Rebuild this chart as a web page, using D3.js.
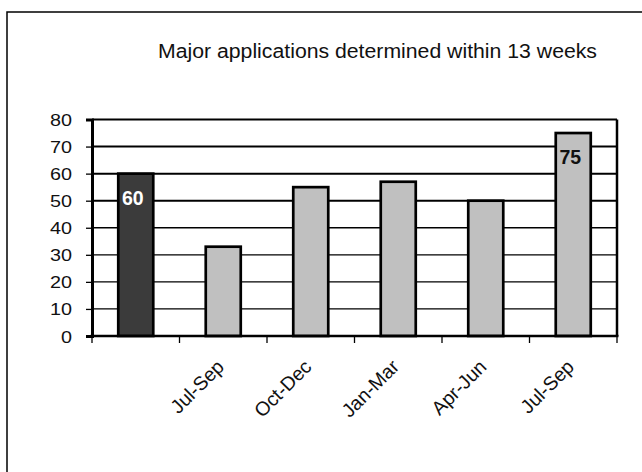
<!DOCTYPE html>
<html>
<head>
<meta charset="utf-8">
<script src="https://cdn.jsdelivr.net/npm/d3@7"></script>
<style>
  html, body { margin: 0; padding: 0; background: #fff; }
  svg { display: block; font-family: "Liberation Sans", Arial, sans-serif; }
</style>
</head>
<body>
<svg id="chart" width="642" height="472"></svg>
<script>
// Quarterly share of major applications decided within 13 weeks (%)
const periods = ["", "Jul-Sep", "Oct-Dec", "Jan-Mar", "Apr-Jun", "Jul-Sep "];
const values = [60, 33, 55, 57, 50, 75];
const barColors = ["#3b3b3b", "#c0c0c0", "#c0c0c0", "#c0c0c0", "#c0c0c0", "#c0c0c0"];
const valueLabels = [{ i: 0, color: "#ffffff" }, { i: 5, color: "#111111" }];
const yTicks = [0, 10, 20, 30, 40, 50, 60, 70, 80];
const titleText = "Major applications determined within 13 weeks";

const W = 642, H = 472;
const plot = { left: 92, right: 617, top: 119.5, bottom: 336 };

const svg = d3.select("#chart");

// outer frame (only top and left edges fall inside the view)
svg.append("rect")
  .attr("x", 7).attr("y", 12)
  .attr("width", W + 20).attr("height", H + 20)
  .attr("fill", "none").attr("stroke", "#000").attr("stroke-width", 1.5);

svg.append("text")
  .attr("x", 158).attr("y", 58)
  .attr("font-size", 19.5)
  .attr("textLength", 439).attr("lengthAdjust", "spacingAndGlyphs")
  .attr("fill", "#111")
  .text(titleText);

const x = d3.scaleBand()
  .domain(d3.range(periods.length))
  .range([plot.left, plot.right])
  .paddingInner(0.6).paddingOuter(0.3);

const xEdge = d3.scaleLinear()
  .domain([0, periods.length])
  .range([plot.left, plot.right]);

const y = d3.scaleLinear().domain([0, 80]).range([plot.bottom, plot.top]);

// horizontal gridlines
svg.append("g").selectAll("line")
  .data(yTicks.filter(t => t > 0))
  .join("line")
  .attr("x1", plot.left).attr("x2", plot.right)
  .attr("y1", d => y(d)).attr("y2", d => y(d))
  .attr("stroke", "#000")
  .attr("stroke-width", d => d >= 50 ? 2 : 1.3);

// right border of the plot area
svg.append("line")
  .attr("x1", plot.right).attr("x2", plot.right)
  .attr("y1", y(80)).attr("y2", y(0))
  .attr("stroke", "#000").attr("stroke-width", 2.5);

// bars
svg.append("g").selectAll("rect")
  .data(values)
  .join("rect")
  .attr("x", (d, i) => x(i))
  .attr("width", x.bandwidth())
  .attr("y", d => y(d))
  .attr("height", d => y(0) - y(d))
  .attr("fill", (d, i) => barColors[i])
  .attr("stroke", "#000")
  .attr("stroke-width", 2.7);

// y axis
const yAxis = svg.append("g")
  .attr("transform", `translate(${plot.left},0)`)
  .call(d3.axisLeft(y).tickValues(yTicks).tickSize(6).tickPadding(0).tickFormat(d3.format("d")));
yAxis.select(".domain").attr("stroke-width", 3);
yAxis.selectAll(".tick line").attr("stroke-width", 1.3);
yAxis.selectAll(".tick text")
  .attr("font-size", 16.5)
  .attr("font-family", "'Liberation Sans', Arial, sans-serif")
  .attr("fill", "#111")
  .attr("x", null).attr("dy", null)
  .attr("text-anchor", "end")
  .attr("transform", "translate(-20,6) scale(1.2,1)");

// x axis: ticks at category boundaries
const xg = svg.append("g");
xg.append("line")
  .attr("x1", plot.left - 1.5).attr("x2", plot.right + 1.5)
  .attr("y1", y(0)).attr("y2", y(0))
  .attr("stroke", "#000").attr("stroke-width", 2.5);
xg.selectAll(".edge")
  .data(d3.range(periods.length + 1))
  .join("line")
  .attr("class", "edge")
  .attr("x1", d => xEdge(d)).attr("x2", d => xEdge(d))
  .attr("y1", y(0)).attr("y2", y(0) + 7)
  .attr("stroke", "#000").attr("stroke-width", 1.3);

// rotated category labels
xg.selectAll(".cat")
  .data(periods)
  .join("text")
  .attr("class", "cat")
  .attr("text-anchor", "end")
  .attr("font-size", 19.5)
  .attr("fill", "#111")
  .attr("transform", (d, i) => `translate(${x(i) + x.bandwidth() / 2 + 2},${y(0) + 32}) rotate(-45)`)
  .text(d => d.trim());

// value labels inside selected bars
svg.append("g").selectAll("text")
  .data(valueLabels)
  .join("text")
  .attr("x", d => x(d.i) + x.bandwidth() / 2 - 3)
  .attr("y", d => y(values[d.i]) + 31)
  .attr("text-anchor", "middle")
  .attr("font-size", 19.5)
  .attr("font-weight", "bold")
  .attr("fill", d => d.color)
  .text(d => values[d.i]);
</script>
</body>
</html>
